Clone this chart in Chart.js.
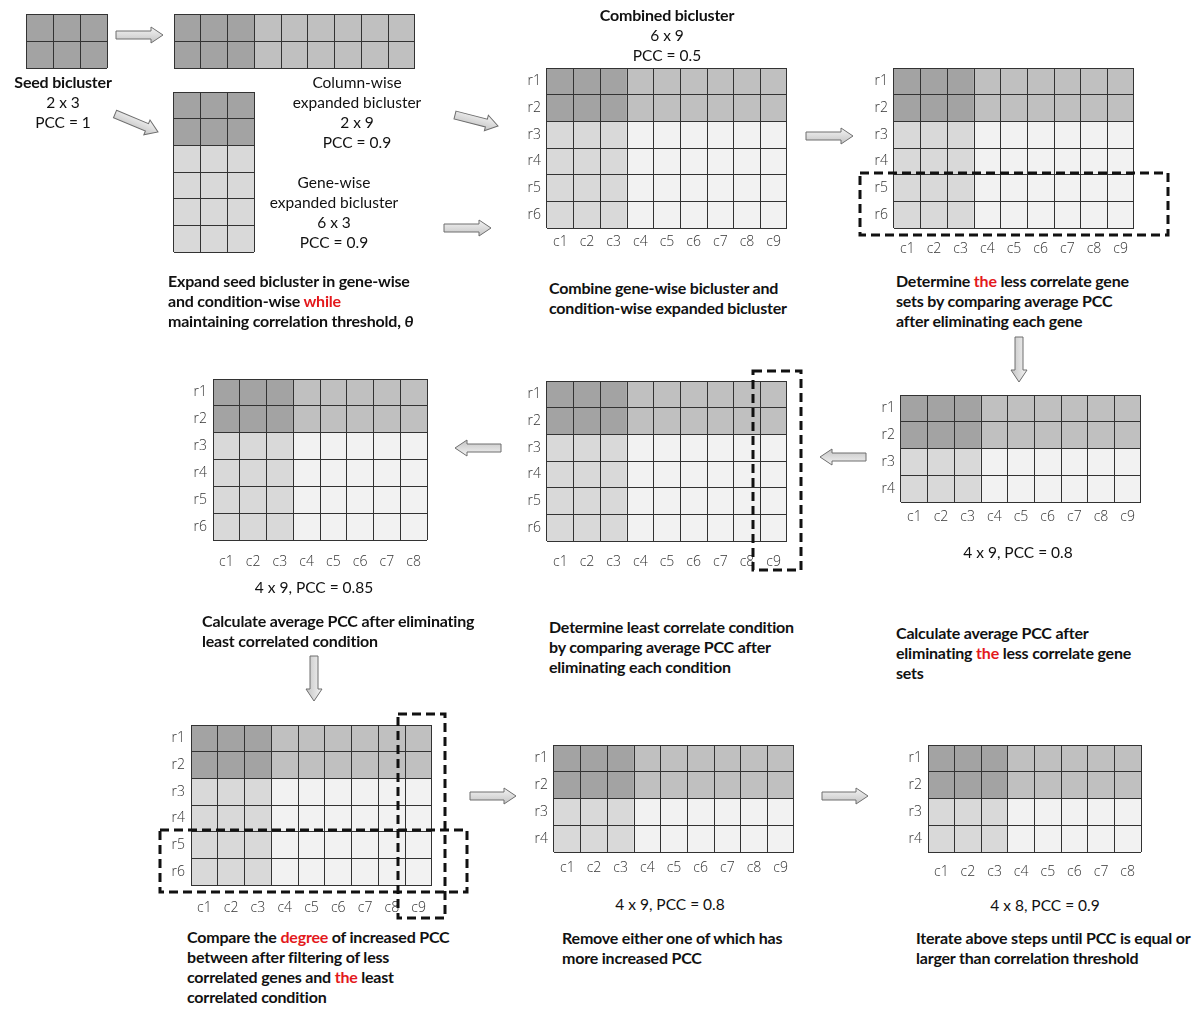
<!DOCTYPE html>
<html>
<head>
<meta charset="utf-8">
<title>Bicluster refinement steps</title>
<script src="https://cdn.jsdelivr.net/npm/chart.js@4.4.1/dist/chart.umd.min.js"></script>
<style>
    html, body { margin: 0; padding: 0; background: #fff; }
    #stage { position: relative; width: 1200px; height: 1017px; overflow: hidden; font-family: Lato, 'Open Sans', sans-serif; color: #111; }
    .grid { position: absolute; }
    .txt { position: absolute; font-size: 15.5px; line-height: 20px; white-space: nowrap; }
    .b { font-weight: bold; font-size: 16px; letter-spacing: -0.2px; }
    .c { transform: translateX(-50%); text-align: center; }
    .red { color: #e3191c; }
    #arrows { position: absolute; left: 0; top: 0; pointer-events: none; }
</style>
</head>
<body>
<div id="stage">
    <!-- top row captions -->
    <div class="txt c" style="left:63px;top:72px"><span class="b">Seed bicluster</span><br>2 x 3<br>PCC = 1</div>
    <div class="txt c" style="left:357px;top:72px">Column-wise<br>expanded bicluster<br>2 x 9<br>PCC = 0.9</div>
    <div class="txt c" style="left:334px;top:172px">Gene-wise<br>expanded bicluster<br>6 x 3<br>PCC = 0.9</div>
    <div class="txt c" style="left:667px;top:5px"><span class="b">Combined bicluster</span><br>6 x 9<br>PCC = 0.5</div>

    <div class="txt b" style="left:168px;top:271px">Expand seed bicluster in gene-wise<br>and condition-wise <span class="red">while</span><br>maintaining correlation threshold, <i>&theta;</i></div>
    <div class="txt b" style="left:549px;top:278px">Combine gene-wise bicluster and<br>condition-wise expanded bicluster</div>
    <div class="txt b" style="left:896px;top:271px">Determine <span class="red">the</span> less correlate gene<br>sets by comparing average PCC<br>after eliminating each gene</div>

    <!-- middle row captions -->
    <div class="txt c" style="left:1018px;top:542px">4 x 9, PCC = 0.8</div>
    <div class="txt b" style="left:896px;top:623px">Calculate average PCC after<br>eliminating <span class="red">the</span> less correlate gene<br>sets</div>
    <div class="txt b" style="left:549px;top:617px">Determine least correlate condition<br>by comparing average PCC after<br>eliminating each condition</div>
    <div class="txt c" style="left:314px;top:577px">4 x 9, PCC = 0.85</div>
    <div class="txt b" style="left:202px;top:611px">Calculate average PCC after eliminating<br>least correlated condition</div>

    <!-- bottom row captions -->
    <div class="txt b" style="left:187px;top:927px">Compare the <span class="red">degree</span> of increased PCC<br>between after filtering of less<br>correlated genes and <span class="red">the</span> least<br>correlated condition</div>
    <div class="txt c" style="left:670px;top:894px">4 x 9, PCC = 0.8</div>
    <div class="txt b" style="left:562px;top:928px">Remove either one of which has<br>more increased PCC</div>
    <div class="txt c" style="left:1045px;top:895px">4 x 8, PCC = 0.9</div>
    <div class="txt b" style="left:916px;top:928px">Iterate above steps until PCC is equal or<br>larger than correlation threshold</div>
</div>

<script>
// --- categories (conditions / genes) ---
const colsNine = ['c1', 'c2', 'c3', 'c4', 'c5', 'c6', 'c7', 'c8', 'c9'];
const colsEight = ['c1', 'c2', 'c3', 'c4', 'c5', 'c6', 'c7', 'c8'];
const colsThree = ['c1', 'c2', 'c3'];
const rowsSix = ['r1', 'r2', 'r3', 'r4', 'r5', 'r6'];
const rowsFour = ['r1', 'r2', 'r3', 'r4'];
const rowsTwo = ['r1', 'r2'];

// --- cell shades, one letter per cell: D seed, M column-wise, L gene-wise, W rest ---
const seedShade = ['DDD', 'DDD'];
const columnWiseShade = ['DDDMMMMMM', 'DDDMMMMMM'];
const geneWiseShade = ['DDD', 'DDD', 'LLL', 'LLL', 'LLL', 'LLL'];
const sixByNineShade = ['DDDMMMMMM', 'DDDMMMMMM', 'LLLWWWWWW', 'LLLWWWWWW', 'LLLWWWWWW', 'LLLWWWWWW'];
const sixByEightShade = ['DDDMMMMM', 'DDDMMMMM', 'LLLWWWWW', 'LLLWWWWW', 'LLLWWWWW', 'LLLWWWWW'];
const fourByNineShade = ['DDDMMMMMM', 'DDDMMMMMM', 'LLLWWWWWW', 'LLLWWWWWW'];
const fourByEightShade = ['DDDMMMMM', 'DDDMMMMM', 'LLLWWWWW', 'LLLWWWWW'];

const shadeColors = { D: '#a3a3a3', M: '#c0c0c0', L: '#d9d9d9', W: '#f2f2f2' };

/* --- where each grid sits on the page --- */
const PAD_L = 48, PAD_R = 44, PAD_T = 16, PAD_B = 42, ROW_LABEL_W = 40;

const grids = [
    { x: 26,  y: 14,  w: 81,  h: 54,  cols: colsThree, rows: rowsTwo, shade: seedShade, labels: false },
    { x: 174, y: 14,  w: 241, h: 54,  cols: colsNine, rows: rowsTwo, shade: columnWiseShade, labels: false },
    { x: 174, y: 92,  w: 80,  h: 160, cols: colsThree, rows: rowsSix, shade: geneWiseShade, labels: false },
    { x: 547, y: 68,  w: 240, h: 160, cols: colsNine, rows: rowsSix, shade: sixByNineShade, labels: true, colPad: 6 },
    { x: 894, y: 68,  w: 240, h: 160, cols: colsNine, rows: rowsSix, shade: sixByNineShade, labels: true, colPad: 13,
      boxes: [{ rows: [4, 6], pad: [-1.5, 34, 7, -34] }] },
    { x: 901, y: 395, w: 240, h: 107, cols: colsNine, rows: rowsFour, shade: fourByNineShade, labels: true, colPad: 7 },
    { x: 547, y: 381, w: 240, h: 160, cols: colsNine, rows: rowsSix, shade: sixByNineShade, labels: true, colPad: 13,
      boxes: [{ col: 8, pad: [-10, 14, 29, -7] }] },
    { x: 213, y: 379, w: 214, h: 161, cols: colsEight, rows: rowsSix, shade: sixByEightShade, labels: true, colPad: 14 },
    { x: 191, y: 725, w: 241, h: 160, cols: colsNine, rows: rowsSix, shade: sixByNineShade, labels: true, colPad: 15,
      boxes: [{ col: 8, pad: [-11, 13, 33, -7] }, { rows: [4, 6], pad: [-2, 35, 7, -31] }] },
    { x: 554, y: 745, w: 240, h: 107, cols: colsNine, rows: rowsFour, shade: fourByNineShade, labels: true, colPad: 8 },
    { x: 928, y: 745, w: 213, h: 107, cols: colsEight, rows: rowsFour, shade: fourByEightShade, labels: true, colPad: 12 }
];

// arrows between steps: start and end points
const arrows = [
    [116, 35, 163, 35], [115, 114, 158, 132], [455, 115, 498, 126], [444, 228, 491, 228],
    [806, 136, 853, 136], [1019, 337, 1019, 382], [866, 457, 820, 457], [501, 448, 455, 448],
    [314, 656, 314, 701], [470, 796, 516, 796], [822, 796, 868, 796]
];

/* --- dashed highlight boxes, placed from the chart scales --- */
const dashedBoxes = {
    id: 'dashedBoxes',
    afterDraw(chart, args, opts) {
        const boxes = opts.boxes || [];
        const { ctx, chartArea: a, scales: { x, y } } = chart;
        ctx.save();
        ctx.setLineDash([9, 5]);
        ctx.lineWidth = 3;
        ctx.strokeStyle = '#111';
        boxes.forEach(b => {
            let l, r, t, bt;
            if (b.rows) {
                t = y.getPixelForValue(b.rows[0]) + b.pad[0];
                bt = y.getPixelForValue(b.rows[1]) + b.pad[2];
                l = a.left + b.pad[3];
                r = a.right + b.pad[1];
            } else {
                const half = (x.getPixelForValue(1) - x.getPixelForValue(0)) / 2;
                const cx = x.getPixelForValue(b.col);
                l = cx - half + b.pad[3];
                r = cx + half + b.pad[1];
                t = a.top + b.pad[0];
                bt = a.bottom + b.pad[2];
            }
            ctx.strokeRect(Math.round(l), Math.round(t), Math.round(r - l), Math.round(bt - t));
        });
        ctx.restore();
    }
};

const stage = document.getElementById('stage');
const tickFont = { family: "'Open Sans', Lato, sans-serif", size: 14, weight: '300' };

function makeGrid(g) {
    const wrap = document.createElement('div');
    wrap.className = 'grid';
    const W = g.w + PAD_L + PAD_R, H = g.h + PAD_T + PAD_B;
    wrap.style.left = (g.x - PAD_L) + 'px';
    wrap.style.top = (g.y - PAD_T) + 'px';
    const canvas = document.createElement('canvas');
    canvas.width = W;
    canvas.height = H;
    wrap.appendChild(canvas);
    stage.insertBefore(wrap, stage.firstChild);

    const cellH = g.h / g.rows.length;

    new Chart(canvas, {
        type: 'bar',
        data: {
            labels: g.cols,
            datasets: g.rows.map((r, i) => ({
                label: r,
                data: g.shade[i].split('').map(() => 1),
                backgroundColor: g.shade[i].split('').map(k => shadeColors[k]),
                borderWidth: 0,
                categoryPercentage: 1,
                barPercentage: 1
            }))
        },
        options: {
            responsive: false,
            animation: false,
            events: [],
            layout: { padding: { left: PAD_L - ROW_LABEL_W, right: PAD_R, top: PAD_T, bottom: 0 } },
            plugins: {
                legend: { display: false },
                tooltip: { enabled: false },
                dashedBoxes: { boxes: g.boxes || [] }
            },
            scales: {
                x: {
                    stacked: true,
                    offset: true,
                    grid: { offset: true, color: '#333', lineWidth: 1, drawTicks: false, z: 1 },
                    border: { display: false },
                    ticks: { display: g.labels, padding: g.colPad || 0, font: tickFont, color: '#333', autoSkip: false, maxRotation: 0 },
                    afterFit: s => { s.height = PAD_B; }
                },
                y: {
                    stacked: true,
                    reverse: true,
                    min: 0,
                    max: g.rows.length,
                    grid: { color: '#333', lineWidth: 1, drawTicks: false, z: 1 },
                    border: { display: false },
                    afterBuildTicks: s => {
                        s.ticks = g.rows.concat(['']).map((_, i) => ({ value: i }));
                    },
                    ticks: {
                        display: g.labels,
                        padding: 6,
                        labelOffset: cellH / 2,
                        autoSkip: false,
                        font: tickFont,
                        color: '#333',
                        callback: (v, i) => g.rows[i] || ''
                    },
                    afterFit: s => { s.width = ROW_LABEL_W; }
                }
            }
        },
        plugins: [dashedBoxes]
    });
}

grids.forEach(makeGrid);

/* --- block arrows --- */
const NS = 'http://www.w3.org/2000/svg';
const svg = document.createElementNS(NS, 'svg');
svg.setAttribute('id', 'arrows');
svg.setAttribute('width', 1200);
svg.setAttribute('height', 1017);
svg.innerHTML = `<defs><linearGradient id="ag" x1="0" y1="0" x2="0" y2="1">
    <stop offset="0" stop-color="#f4f4f4"/><stop offset="1" stop-color="#c4c4c4"/></linearGradient></defs>`;
arrows.forEach(([x1, y1, x2, y2]) => {
    const len = Math.hypot(x2 - x1, y2 - y1);
    const ang = Math.atan2(y2 - y1, x2 - x1) * 180 / Math.PI;
    const hl = 12;
    const p = document.createElementNS(NS, 'polygon');
    p.setAttribute('points', `0,-4 ${len - hl},-4 ${len - hl},-8 ${len},0 ${len - hl},8 ${len - hl},4 0,4`);
    p.setAttribute('transform', `translate(${x1},${y1}) rotate(${ang})`);
    p.setAttribute('fill', 'url(#ag)');
    p.setAttribute('stroke', '#6e6e6e');
    p.setAttribute('stroke-width', '1');
    svg.appendChild(p);
});
stage.appendChild(svg);
</script>
</body>
</html>
